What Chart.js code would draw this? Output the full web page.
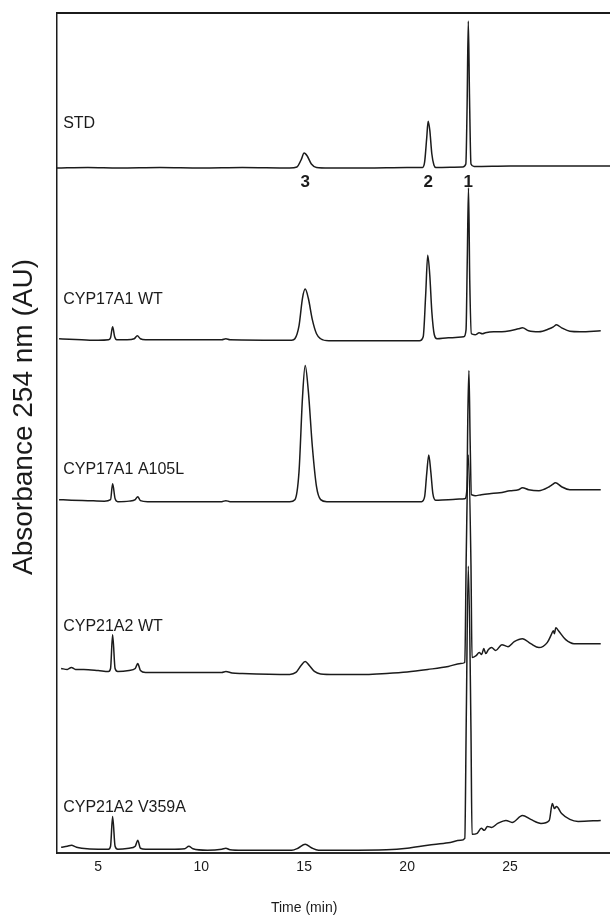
<!DOCTYPE html>
<html>
<head>
<meta charset="utf-8">
<script src="https://cdn.jsdelivr.net/npm/chart.js@4.4.0/dist/chart.umd.min.js"></script>
<style>
  html, body { margin: 0; padding: 0; background: #fff; }
  #wrap { width: 610px; height: 918px; position: relative; }
</style>
</head>
<body>
<div id="wrap"><canvas id="hplc"></canvas></div>
<script>
// Time axis (min)
const xTickValues = [5, 10, 15, 20, 25];

// Trace names, top to bottom
const traceNames = ['STD', 'CYP17A1 WT', 'CYP17A1 A105L', 'CYP21A2 WT', 'CYP21A2 V359A'];

// Vertical offset of each trace in the stacked plot (mAU, arbitrary)
const traceOffsets = [690, 517, 354, 180, 3];

// Peak numbers on the standard trace: [time, label]
const peakLabels = [[15.05, '3'], [21.02, '2'], [22.97, '1']];

// Absorbance traces, [time (min), signal above baseline (mAU)]
const stdTrace = [
  [3.0, 0], [4.5, 0.5], [6, 0], [8, 0.5], [10, 0], [12, 0.5], [14.3, 0],
  [14.65, 1], [14.85, 8], [15.0, 15], [15.15, 12], [15.35, 4], [15.6, 0.5],
  [16.2, 0], [18, 0], [20, 0.5], [20.75, 0.5], [20.85, 6], [20.95, 30],
  [21.02, 47], [21.1, 38], [21.2, 14], [21.3, 3], [21.4, 0.5], [22.7, 1],
  [22.85, 4], [22.91, 60], [22.97, 148], [23.03, 70], [23.1, 4], [23.25, 1.5],
  [25, 2], [27, 2], [29.85, 2]
];

const wt17Trace = [
  [3.1, 1], [3.6, 0.5], [4.2, 0], [5.0, -0.5], [5.5, 0], [5.6, 2], [5.7, 13],
  [5.8, 3], [5.9, 0], [6.4, 0], [6.75, 1], [6.9, 4], [7.05, 1], [7.3, 0],
  [9, 0], [11, 0], [11.2, 1], [11.4, 0], [14.4, -0.5], [14.55, 1], [14.75, 14],
  [14.92, 42], [15.05, 51], [15.2, 42], [15.4, 20], [15.6, 6], [15.8, 1],
  [16.2, -1], [18, -1], [20.6, -1], [20.78, 3], [20.9, 45], [21.0, 85],
  [21.1, 65], [21.2, 28], [21.32, 5], [21.45, 1], [22, 2], [22.75, 3],
  [22.86, 10], [22.92, 80], [22.98, 153], [23.04, 60], [23.12, 6], [23.3, 5],
  [23.5, 7], [23.65, 6], [23.8, 7], [24.2, 8], [24.6, 8], [25.0, 9], [25.4, 11],
  [25.6, 12], [25.9, 9], [26.4, 8], [26.9, 11], [27.1, 13], [27.25, 15],
  [27.5, 12], [27.9, 8.5], [28.4, 8], [29.4, 9]
];

const a105lTrace = [
  [3.1, 2], [3.7, 1.5], [4.5, 1], [5.3, 0.5], [5.6, 2], [5.7, 18], [5.82, 3],
  [5.95, 0], [6.5, 0.5], [6.8, 2], [6.92, 5], [7.05, 1], [7.4, 0], [9, 0],
  [11.0, 0], [11.2, 1], [11.4, 0], [14.3, 0], [14.55, 2], [14.75, 30],
  [14.92, 105], [15.05, 137], [15.2, 112], [15.4, 55], [15.6, 15], [15.8, 2],
  [16.1, 0], [18, 0], [20.7, 0], [20.85, 5], [20.95, 28], [21.05, 47],
  [21.15, 30], [21.25, 8], [21.38, 1.5], [22, 2], [22.8, 3], [22.9, 12],
  [22.95, 90], [23.0, 132], [23.06, 60], [23.12, 7], [23.3, 6], [23.6, 7],
  [24, 8], [24.5, 9], [25, 11], [25.4, 12], [25.6, 14], [25.9, 12],
  [26.4, 11], [26.9, 15], [27.05, 17], [27.2, 19], [27.5, 15], [27.9, 12],
  [28.4, 12], [29.4, 12]
];

const wt21Trace = [
  [3.2, 6], [3.5, 5], [3.7, 7], [3.9, 5], [4.3, 5], [5.0, 4], [5.5, 3],
  [5.6, 6], [5.7, 40], [5.82, 6], [5.95, 3], [6.5, 4], [6.8, 6], [6.92, 11],
  [7.05, 4], [7.3, 2], [8.5, 2], [10, 2], [11.0, 2], [11.2, 3], [11.5, 1.5],
  [12, 1], [14.3, 0], [14.6, 2], [14.85, 9], [15.05, 13], [15.25, 9],
  [15.5, 3], [15.8, 0.5], [16.5, 0], [18, 0], [19, 1], [20, 2.5], [21, 5],
  [22, 8], [22.6, 11], [22.8, 12], [22.87, 120], [22.97, 221], [23.1, 110],
  [23.15, 17], [23.35, 19], [23.5, 22], [23.62, 20], [23.72, 26], [23.82, 21],
  [23.95, 25], [24.1, 27], [24.3, 24], [24.6, 30], [24.9, 28], [25.2, 33],
  [25.6, 36], [26.0, 31], [26.4, 27], [26.8, 32], [27.0, 40], [27.1, 44],
  [27.15, 41], [27.22, 47], [27.35, 44], [27.7, 35], [28.1, 31], [29.4, 31]
];

const v359aTrace = [
  [3.2, 3], [3.5, 4], [3.7, 5], [3.95, 3], [4.2, 2], [5.0, 1], [5.5, 1],
  [5.6, 4], [5.7, 34], [5.82, 4], [5.95, 1], [6.5, 2], [6.8, 4], [6.92, 10],
  [7.05, 2], [7.3, 1], [8.5, 1], [9.2, 1.5], [9.4, 4], [9.6, 1.5], [10.3, 0],
  [11.0, 1], [11.2, 2], [11.4, 0.5], [12, 0], [14.4, 0], [14.7, 2],
  [15.05, 6], [15.35, 2.5], [15.7, 0], [17, 0], [19, 0.5], [20, 2], [21, 5],
  [22, 7.5], [22.6, 10], [22.8, 12], [22.87, 130], [22.97, 286], [23.1, 120],
  [23.15, 16], [23.4, 17], [23.6, 22], [23.75, 20], [23.9, 24], [24.1, 23],
  [24.4, 27], [24.8, 30], [25.1, 28], [25.6, 35], [26.0, 31], [26.5, 27],
  [26.9, 30], [27.05, 47], [27.15, 42], [27.25, 44], [27.5, 37], [27.9, 31],
  [28.3, 29], [29.4, 30]
];

const traces = [stdTrace, wt17Trace, a105lTrace, wt21Trace, v359aTrace];

const INK = '#1b1b1b';
const FONT = '"Liberation Sans", Arial, sans-serif';

// labels, frame top line and axis titles
const annotate = {
  id: 'annotate',
  afterDraw(chart) {
    const { ctx, chartArea, scales: { x, y } } = chart;
    ctx.save();

    // top frame line
    ctx.strokeStyle = INK;
    ctx.lineWidth = 2;
    ctx.beginPath();
    ctx.moveTo(chartArea.left - 1, chartArea.top);
    ctx.lineTo(chart.width, chartArea.top);
    ctx.stroke();

    // trace names
    ctx.fillStyle = INK;
    ctx.font = '16px ' + FONT;
    ctx.textAlign = 'left';
    ctx.textBaseline = 'middle';
    const nameLift = [45, 40, 32, 48, 43];
    traceNames.forEach((name, i) => {
      ctx.fillText(name, x.getPixelForValue(3.3), y.getPixelForValue(traceOffsets[i] + nameLift[i]));
    });

    // peak numbers under the standard trace
    ctx.font = 'bold 17px ' + FONT;
    ctx.textAlign = 'center';
    peakLabels.forEach(([t, lbl]) => {
      ctx.fillText(lbl, x.getPixelForValue(t), y.getPixelForValue(traceOffsets[0]) + 14);
    });

    // x title, centred under 15 min
    ctx.font = '14px ' + FONT;
    ctx.fillText('Time (min)', x.getPixelForValue(15), 908);

    // y title
    ctx.font = '28px ' + FONT;
    ctx.translate(24, 417);
    ctx.rotate(-Math.PI / 2);
    ctx.fillText('Absorbance 254 nm (AU)', 0, 0);

    ctx.restore();
  }
};

new Chart(document.getElementById('hplc'), {
  type: 'line',
  data: {
    datasets: traces.map((tr, i) => ({
      label: traceNames[i],
      data: tr.map(([t, v]) => ({ x: t, y: v + traceOffsets[i] })),
      borderColor: INK,
      borderWidth: 1.5,
      pointRadius: 0,
      fill: false,
      cubicInterpolationMode: 'monotone'
    }))
  },
  options: {
    responsive: true,
    maintainAspectRatio: false,
    animation: false,
    layout: { padding: { left: 57, top: 13, right: 0, bottom: 36 } },
    plugins: { legend: { display: false }, tooltip: { enabled: false } },
    scales: {
      x: {
        type: 'linear',
        min: 3.0,
        max: 29.85,
        afterBuildTicks: (scale) => { scale.ticks = xTickValues.map(v => ({ value: v })); },
        grid: { display: false, drawTicks: false },
        border: { display: true, color: '#2a2a2a', width: 2 },
        ticks: { color: INK, padding: 6, font: { family: FONT, size: 14 } }
      },
      y: {
        min: 0,
        max: 846,
        grid: { display: false, drawTicks: false },
        border: { display: true, color: INK, width: 1.5 },
        ticks: { display: false }
      }
    }
  },
  plugins: [annotate]
});
</script>
</body>
</html>
